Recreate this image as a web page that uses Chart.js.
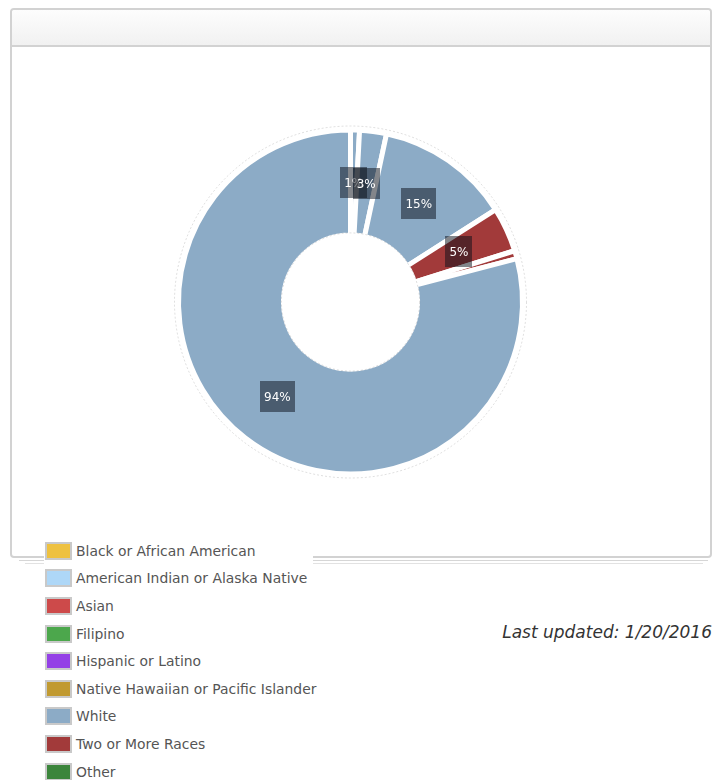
<!DOCTYPE html>
<html>
<head>
<meta charset="utf-8">
<script src="https://cdn.jsdelivr.net/npm/chart.js@4.4.1/dist/chart.umd.min.js"></script>
<style>
    body { margin: 0; background: #fff; font-family: "DejaVu Sans", Verdana, sans-serif; }
    .panel {
        position: absolute; left: 10px; top: 8px; width: 702px; height: 550px;
        box-sizing: border-box; border: 2px solid #d2d2d2; border-radius: 4px; background: #fff;
    }
    .panel-head {
        height: 35px; border-bottom: 2px solid #d2d2d2;
        background: linear-gradient(#fdfdfd, #f1f1f1); border-radius: 3px 3px 0 0;
    }
    .sheet { position: absolute; height: 0; }
    #chartBox { position: absolute; left: 160px; top: 112px; width: 381px; height: 380px; }
    #legend {
        position: absolute; left: 44px; top: 537px; width: 269px; background: #fff;
    }
    .legend-row { display: flex; align-items: center; height: 27.6px; }
    .legend-swatch {
        width: 27px; height: 18px; box-sizing: border-box; border: 2px solid #c9c9c9;
        margin-left: 1px; margin-right: 4px; flex: none;
    }
    .legend-text { font-size: 13.9px; color: #555; white-space: nowrap; }
    #updated {
        position: absolute; right: 3px; top: 622px; font-size: 17px; font-style: italic; color: #333;
    }
</style>
</head>
<body>
<div class="sheet" style="left:19px; top:560px; width:689px; border-top:1px solid #d6d6d6;"></div>
<div class="sheet" style="left:25px; top:563px; width:678px; border-top:1px solid #e2e2e2;"></div>
<div class="panel"><div class="panel-head"></div></div>
<div id="chartBox"><canvas id="myChart" width="381" height="380"></canvas></div>
<div id="legend"></div>
<div id="updated">Last updated: 1/20/2016</div>

<script>
// 圖例分類
const categories = [
    'Black or African American',
    'American Indian or Alaska Native',
    'Asian',
    'Filipino',
    'Hispanic or Latino',
    'Native Hawaiian or Pacific Islander',
    'White',
    'Two or More Races',
    'Other'
];

// 環形圖各區塊的數值 (%) 與所屬分類
const sliceValues = [1, 3, 15, 5, 0.9, 94];
const sliceGroups = ['White', 'White', 'White', 'Two or More Races', 'Two or More Races', 'White'];

const palette = {
    'Black or African American': '#eec140',
    'American Indian or Alaska Native': '#aed7f7',
    'Asian': '#cd4a4a',
    'Filipino': '#4ca74c',
    'Hispanic or Latino': '#9440e6',
    'Native Hawaiian or Pacific Islander': '#c19a31',
    'White': '#8cabc6',
    'Two or More Races': '#a23a3a',
    'Other': '#3b853b'
};

// 建立圖例
const legendEl = document.getElementById('legend');
categories.forEach(function(name) {
    const row = document.createElement('div');
    row.className = 'legend-row';
    row.innerHTML = '<div class="legend-swatch" style="background:' + palette[name] + '"></div>' +
        '<span class="legend-text">' + name + '</span>';
    legendEl.appendChild(row);
});

// 外圈與內圈的虛線
const ringGuides = {
    id: 'ringGuides',
    afterDatasetsDraw: function(chart) {
        const arc = chart.getDatasetMeta(0).data[0];
        if (!arc) return;
        const ctx = chart.ctx;
        ctx.save();
        ctx.setLineDash([2, 2]);
        ctx.strokeStyle = 'rgba(0,0,0,0.13)';
        ctx.lineWidth = 1;
        [arc.outerRadius + 4, arc.innerRadius + 2].forEach(function(r) {
            ctx.beginPath();
            ctx.arc(arc.x, arc.y, r, 0, Math.PI * 2);
            ctx.stroke();
        });
        ctx.restore();
    }
};

// 百分比標籤 (小於 1% 的不顯示)
const pctLabels = {
    id: 'pctLabels',
    afterDatasetsDraw: function(chart) {
        const ctx = chart.ctx;
        const meta = chart.getDatasetMeta(0);
        ctx.save();
        ctx.font = '12px "DejaVu Sans"';
        ctx.textAlign = 'center';
        ctx.textBaseline = 'middle';
        meta.data.forEach(function(arc, i) {
            const v = sliceValues[i];
            if (v < 1) return;
            const text = v + '%';
            const pos = arc.tooltipPosition();
            const w = ctx.measureText(text).width + 8;
            const h = 31;
            ctx.fillStyle = 'rgba(8,14,24,0.5)';
            ctx.fillRect(Math.round(pos.x - w / 2), Math.round(pos.y - h / 2), Math.round(w), h);
            ctx.fillStyle = '#fff';
            ctx.fillText(text, pos.x, pos.y + 1);
        });
        ctx.restore();
    }
};

const ctx = document.getElementById('myChart').getContext('2d');
const myChart = new Chart(ctx, {
    type: 'doughnut',
    data: {
        labels: sliceGroups,
        datasets: [{
            data: sliceValues,
            backgroundColor: sliceGroups.map(g => palette[g]),
            borderColor: '#fff',
            borderWidth: 5
        }]
    },
    options: {
        responsive: false,
        animation: false,
        radius: 172,
        cutout: '39%',
        layout: { padding: 0 },
        plugins: {
            legend: { display: false },
            tooltip: { enabled: false }
        }
    },
    plugins: [ringGuides, pctLabels]
});
</script>
</body>
</html>
